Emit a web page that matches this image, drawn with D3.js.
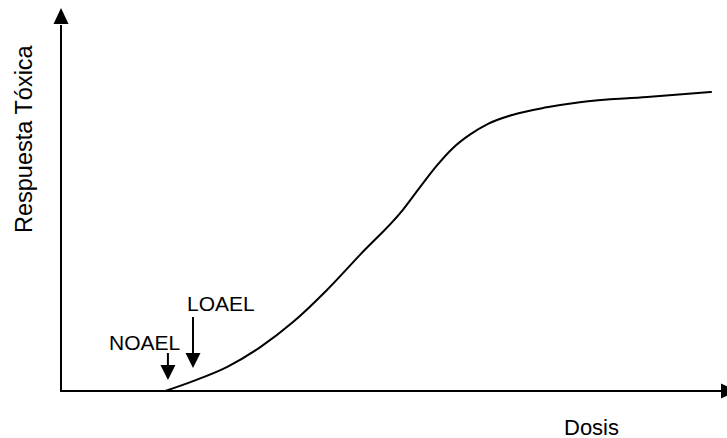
<!DOCTYPE html>
<html>
<head>
<meta charset="utf-8">
<script src="https://cdn.jsdelivr.net/npm/d3@7"></script>
<style>
html,body{margin:0;padding:0;background:#fff;}
svg{display:block;}
text{font-family:Arial,"Liberation Sans",sans-serif;fill:#000;}
</style>
</head>
<body>
<svg id="chart" width="727" height="438"></svg>
<script>
// Data (dose units 0-100, response units 0-100)
const doseValues     = [15.8, 20.0, 25.2, 30.2, 35.2, 40.3, 45.3, 51.8, 54.4, 57.0, 59.4, 62.0, 64.7, 68.5, 73.6, 78.6, 88.8, 98.6];
const responseValues = [0,    2.7,  6.6,  12.0, 18.9, 27.6, 37.2, 49.5, 55.7, 61.7, 66.4, 70.1, 73.0, 75.5, 77.5, 78.9, 80.3, 81.7];
const markerLabels = ["NOAEL", "LOAEL"];
const markerDoses  = [16.2, 20.0];
const xAxisLabel = "Dosis";
const yAxisLabel = "Respuesta Tóxica";

const svg = d3.select("#chart");
const x = d3.scaleLinear().domain([0, 100]).range([61, 721]);
const y = d3.scaleLinear().domain([0, 100]).range([391, 25]);

// axes (no ticks)
const gx = svg.append("g").attr("transform", `translate(0,${y(0)})`)
  .call(d3.axisBottom(x).tickValues([]).tickSizeOuter(0));
gx.select(".domain").attr("stroke", "#000").attr("stroke-width", 2)
  .attr("d", `M${x(0)},0H${x(100)}`);
const gy = svg.append("g").attr("transform", `translate(${x(0)},0)`)
  .call(d3.axisLeft(y).tickValues([]).tickSizeOuter(0));
gy.select(".domain").attr("stroke", "#000").attr("stroke-width", 2)
  .attr("d", `M0,${y(0) + 1}V${y(100)}`);

// axis arrowheads
svg.append("path")
  .attr("d", `M${x(0)},8L${x(0) - 7.5},${y(100) - 1}L${x(0) + 7.5},${y(100) - 1}Z`)
  .attr("fill", "#000");
svg.append("path")
  .attr("d", `M${x(100) + 16},${y(0)}L${x(100)},${y(0) - 7.5}L${x(100)},${y(0) + 7.5}Z`)
  .attr("fill", "#000");

// curve
const data = doseValues.map((d, i) => ({ d, r: responseValues[i] }));
svg.append("path").datum(data)
  .attr("fill", "none").attr("stroke", "#000").attr("stroke-width", 2)
  .attr("d", d3.line().x(p => x(p.d)).y(p => y(p.r)).curve(d3.curveMonotoneX));

// marker arrows + labels
const arrowSpecs = [
  { top: 353, tip: 380, tx: 109, ty: 350 },
  { top: 317, tip: 368, tx: 187, ty: 311 }
];
markerLabels.forEach((lab, i) => {
  const ax = x(markerDoses[i]);
  const s = arrowSpecs[i];
  svg.append("line").attr("x1", ax).attr("x2", ax).attr("y1", s.top).attr("y2", s.tip - 12)
    .attr("stroke", "#000").attr("stroke-width", 2);
  svg.append("path")
    .attr("d", `M${ax},${s.tip}L${ax - 7.5},${s.tip - 15}L${ax + 7.5},${s.tip - 15}Z`)
    .attr("fill", "#000");
  svg.append("text").attr("x", s.tx).attr("y", s.ty)
    .attr("font-size", 21).text(lab);
});

// axis labels
svg.append("text").attr("x", 564).attr("y", 435).attr("font-size", 22).text(xAxisLabel);
svg.append("text").attr("transform", "translate(32,233) rotate(-90)")
  .attr("font-size", 23.5).text(yAxisLabel);
</script>
</body>
</html>
